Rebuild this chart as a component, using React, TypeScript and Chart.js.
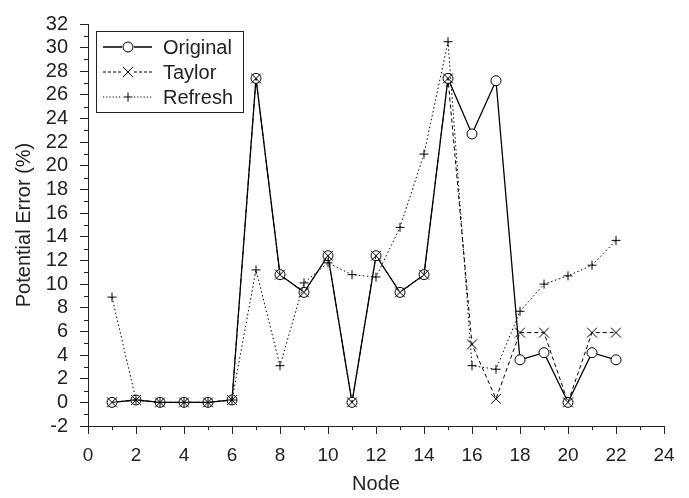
import React, { useEffect, useRef } from 'react';
import { Chart, registerables } from 'chart.js';

Chart.register(...registerables);

const nodes = [1, 2, 3, 4, 5, 6, 7, 8, 9, 10, 11, 12, 13, 14, 15, 16, 17, 18, 19, 20, 21, 22];
const original = [0, 0.2, 0, 0, 0, 0.2, 27.4, 10.8, 9.3, 12.4, 0, 12.4, 9.3, 10.8, 27.4, 22.7, 27.2, 3.6, 4.2, 0, 4.2, 3.6];
const taylor = [0, 0.2, 0, 0, 0, 0.2, 27.4, 10.8, 9.3, 12.4, 0, 12.4, 9.3, 10.8, 27.4, 4.9, 0.3, 5.9, 5.9, 0, 5.9, 5.9];
const refresh = [8.9, 0.2, 0, 0, 0, 0.2, 11.2, 3.1, 10.1, 11.8, 10.8, 10.6, 14.8, 21.0, 30.5, 3.1, 2.8, 7.7, 10.0, 10.7, 11.6, 13.7];
const seriesNames = ['Original', 'Taylor', 'Refresh'];
const xRange = [0, 24];
const yRange = [-2, 32];
const xTitle = 'Node';
const yTitle = 'Potential Error (%)';

const FONT = '"Liberation Sans", Arial, Helvetica, sans-serif';
const INK = '#222';

const drawMarker = (ctx: CanvasRenderingContext2D, kind: string, x: number, y: number) => {
  ctx.beginPath();
  if (kind === 'circle') {
    ctx.arc(x, y, 5, 0, Math.PI * 2);
    ctx.fillStyle = '#fff';
    ctx.fill();
    ctx.stroke();
  } else if (kind === 'crossRot') {
    const d = 5;
    ctx.moveTo(x - d, y - d); ctx.lineTo(x + d, y + d);
    ctx.moveTo(x + d, y - d); ctx.lineTo(x - d, y + d);
    ctx.stroke();
  } else {
    const d = 4.5;
    ctx.moveTo(x - d, y); ctx.lineTo(x + d, y);
    ctx.moveTo(x, y - d); ctx.lineTo(x, y + d);
    ctx.stroke();
  }
};

const extrasPlugin = {
  id: 'extras',
  afterDraw(chart: any) {
    const ctx = chart.ctx as CanvasRenderingContext2D;
    const area = chart.chartArea;
    const xs = chart.scales.x;
    const ys = chart.scales.y;
    ctx.save();
    ctx.strokeStyle = INK;
    ctx.lineWidth = 1;
    ctx.setLineDash([]);
    // minor ticks
    ctx.beginPath();
    for (let v = yRange[0] + 1; v < yRange[1]; v += 2) {
      const py = Math.round(ys.getPixelForValue(v)) + 0.5;
      ctx.moveTo(area.left, py);
      ctx.lineTo(area.left - 4, py);
    }
    for (let v = xRange[0] + 1; v < xRange[1]; v += 2) {
      const px = Math.round(xs.getPixelForValue(v)) + 0.5;
      ctx.moveTo(px, area.bottom);
      ctx.lineTo(px, area.bottom + 4);
    }
    ctx.stroke();

    // legend
    const bx = 96.5, by = 31.5, bw = 147, bh = 81;
    ctx.strokeStyle = INK;
    ctx.strokeRect(bx, by, bw, bh);
    const styles = [
      { dash: [] as number[], marker: 'circle', width: 1.3 },
      { dash: [3, 2], marker: 'crossRot', width: 1 },
      { dash: [1.2, 2], marker: 'cross', width: 1 },
    ];
    ctx.font = `20px ${FONT}`;
    ctx.textBaseline = 'middle';
    ctx.textAlign = 'left';
    ctx.fillStyle = INK;
    seriesNames.forEach((name, i) => {
      const cy = 47 + i * 25;
      const st = styles[i];
      ctx.strokeStyle = '#000';
      ctx.lineWidth = st.width;
      ctx.setLineDash(st.dash);
      ctx.beginPath();
      ctx.moveTo(103, cy);
      ctx.lineTo(122, cy);
      ctx.moveTo(134, cy);
      ctx.lineTo(152, cy);
      ctx.stroke();
      ctx.setLineDash([]);
      ctx.lineWidth = 1;
      drawMarker(ctx, st.marker, 128, cy);
      ctx.fillStyle = INK;
      ctx.fillText(name, 163, cy + 1);
    });
    ctx.restore();
  },
};

export default function App() {
  const ref = useRef<HTMLCanvasElement | null>(null);
  useEffect(() => {
    if (!ref.current) return;
    const mk = (vals: number[]) => vals.map((v, i) => ({ x: nodes[i], y: v }));
    const chart = new Chart(ref.current, {
      type: 'line',
      data: {
        datasets: [
          {
            label: seriesNames[0],
            data: mk(original),
            borderColor: '#000',
            borderWidth: 1.3,
            pointStyle: 'circle',
            pointRadius: 5,
            pointBorderWidth: 1,
            pointBackgroundColor: '#fff',
            pointBorderColor: '#000',
            order: 3,
          },
          {
            label: seriesNames[1],
            data: mk(taylor),
            borderColor: '#000',
            borderWidth: 1,
            borderDash: [4, 3],
            pointStyle: 'crossRot',
            pointRadius: 7,
            pointBorderWidth: 1,
            pointBorderColor: '#000',
            order: 2,
          },
          {
            label: seriesNames[2],
            data: mk(refresh),
            borderColor: '#000',
            borderWidth: 1,
            borderDash: [1.5, 2.5],
            pointStyle: 'cross',
            pointRadius: 4.5,
            pointBorderWidth: 1,
            pointBorderColor: '#000',
            order: 1,
          },
        ],
      },
      options: {
        animation: false,
        responsive: false,
        devicePixelRatio: 1,
        layout: { padding: { top: 14, right: 25, left: 0, bottom: 0 } },
        plugins: { legend: { display: false }, tooltip: { enabled: false } },
        elements: { line: { tension: 0, fill: false } },
        scales: {
          x: {
            type: 'linear',
            min: xRange[0],
            max: xRange[1],
            afterFit: (s: any) => { s.height = 72; },
            ticks: {
              stepSize: 1,
              autoSkip: false,
              maxRotation: 0,
              padding: 10,
              color: INK,
              font: { family: FONT, size: 19 },
              callback: (v: any) => (Number(v) % 2 === 0 ? String(v) : ''),
            },
            grid: {
              drawOnChartArea: false,
              drawTicks: true,
              tickLength: 8,
              tickWidth: 1,
              tickColor: (c: any) => (c.tick && Number(c.tick.value) % 2 === 0 ? INK : 'rgba(0,0,0,0)'),
            },
            border: { display: true, color: INK, width: 1 },
            title: {
              display: true,
              text: xTitle,
              color: INK,
              font: { family: FONT, size: 20 },
              padding: { top: 0, bottom: 2 },
            },
          },
          y: {
            type: 'linear',
            min: yRange[0],
            max: yRange[1],
            afterFit: (s: any) => { s.width = 88; },
            ticks: {
              stepSize: 1,
              autoSkip: false,
              padding: 12,
              color: INK,
              font: { family: FONT, size: 20 },
              callback: (v: any) => (Number(v) % 2 === 0 ? String(v) : ''),
            },
            grid: {
              drawOnChartArea: false,
              drawTicks: true,
              tickLength: 8,
              tickWidth: 1,
              tickColor: (c: any) => (c.tick && Number(c.tick.value) % 2 === 0 ? INK : 'rgba(0,0,0,0)'),
            },
            border: { display: true, color: INK, width: 1 },
            title: {
              display: true,
              text: yTitle,
              color: INK,
              font: { family: FONT, size: 20 },
              padding: { top: 12, bottom: 0 },
            },
          },
        },
      },
      plugins: [extrasPlugin],
    });
    return () => chart.destroy();
  }, []);
  return (
    <div style={{ position: 'fixed', left: 0, top: 0, width: 689, height: 498, background: '#fff' }}>
      <canvas ref={ref} width={689} height={498} style={{ display: 'block', width: 689, height: 498 }} />
    </div>
  );
}
